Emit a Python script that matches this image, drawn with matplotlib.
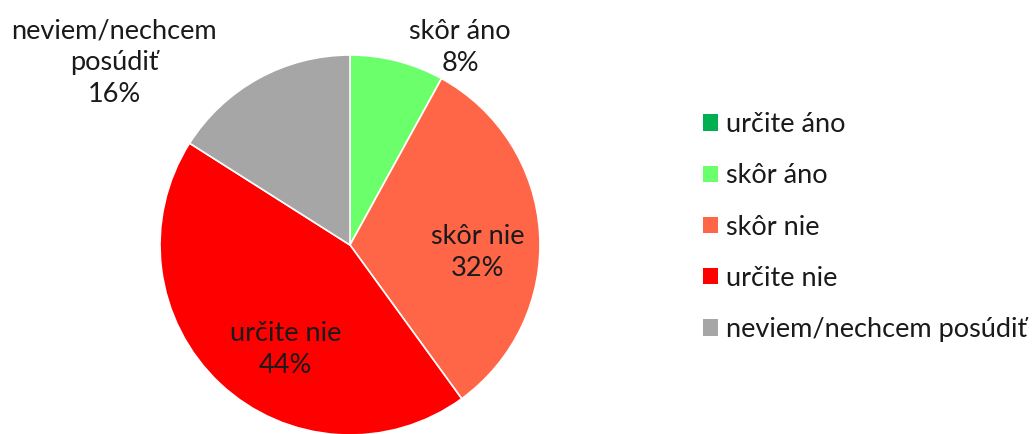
import matplotlib
matplotlib.use("Agg")
import matplotlib.pyplot as plt
from matplotlib.patches import Patch

categories = ["určite áno", "skôr áno", "skôr nie", "určite nie", "neviem/nechcem posúdiť"]
values = [0, 8, 32, 44, 16]
colors = ["#00B050", "#6BFF6B", "#FF6647", "#FF0000", "#A6A6A6"]
slice_labels = ["", "skôr áno\n8%", "skôr nie\n32%", "určite nie\n44%", "neviem/nechcem\nposúdiť\n16%"]

plt.rcParams['font.family'] = ['Lato', 'DejaVu Sans']

W, H = 1036, 434
fig = plt.figure(figsize=(W / 100, H / 100), dpi=100)
cx, cy, r = 350, 245, 190
ax = fig.add_axes([(cx - r) / W, (H - cy - r) / H, 2 * r / W, 2 * r / H])
wedges, _ = ax.pie(values, colors=colors, startangle=90, counterclock=False,
                   radius=1, wedgeprops=dict(edgecolor="white", linewidth=1.2))
ax.set_xlim(-1, 1)
ax.set_ylim(-1, 1)
ax.set_aspect("equal")
ax.axis("off")

label_pos = [None, (0.58, 1.04), (0.67, -0.04), (-0.34, -0.55), (-1.24, 0.96)]
for lab, pos in zip(slice_labels, label_pos):
    if lab and pos:
        ax.text(pos[0], pos[1], lab, ha="center", va="center", fontsize=19.5,
                color="#1a1a1a", linespacing=1.35, clip_on=False)

handles = [Patch(facecolor=c, edgecolor="none") for c in colors]
leg = fig.legend(handles, categories, loc="upper left",
                 bbox_to_anchor=(703 / W, 1 - 112 / H), frameon=False,
                 fontsize=19.5, handlelength=0.55, handleheight=0.55,
                 handletextpad=0.3, labelspacing=0.97, borderaxespad=0,
                 borderpad=0)
for t in leg.get_texts():
    t.set_color("#1a1a1a")

fig.savefig("out.png", dpi=100)
